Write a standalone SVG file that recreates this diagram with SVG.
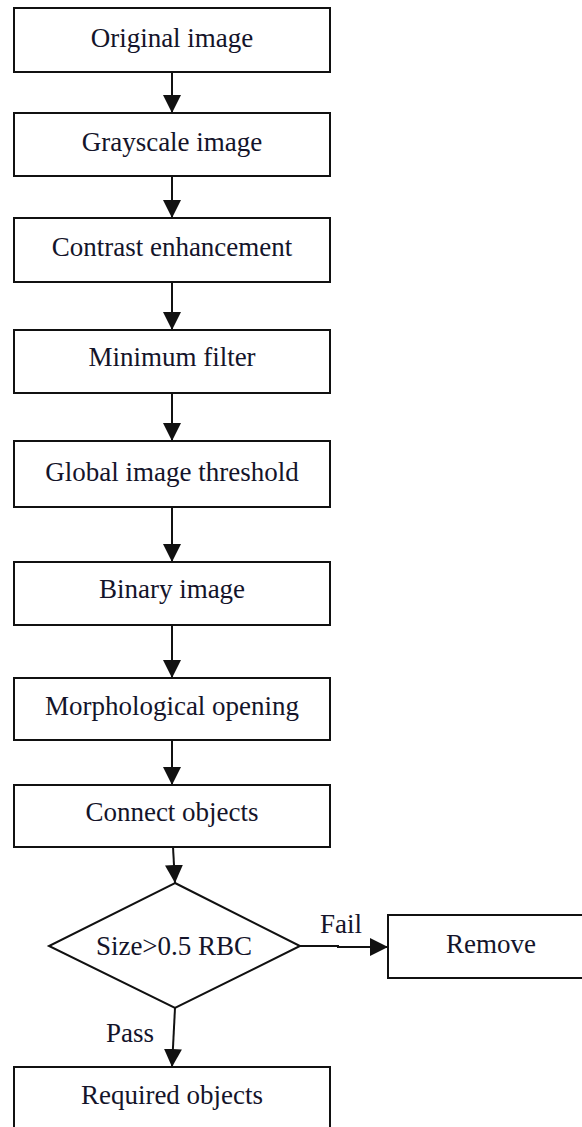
<svg xmlns="http://www.w3.org/2000/svg" width="582" height="1127" viewBox="0 0 582 1127">
<style>
.box{fill:#fff;stroke:#111;stroke-width:2}
.t{font-size:27px;fill:#14142a;text-anchor:middle}
.l{font-size:27px;fill:#14142a}
.c{fill:none;stroke:#111;stroke-width:2}
</style>
<defs>
<marker id="ah" markerWidth="18" markerHeight="18" viewBox="0 0 18 18" refX="18" refY="9" orient="auto" markerUnits="userSpaceOnUse">
<path d="M0,0 L18,9 L0,18 Z" fill="#111"/>
</marker>
</defs>
<rect width="582" height="1127" fill="#fff"/>
<g font-family="Liberation Serif, Tinos, DejaVu Serif, serif">
<g id="connectors">
<line class="c" x1="172" y1="72" x2="172" y2="113" marker-end="url(#ah)"/>
<line class="c" x1="172" y1="176" x2="172" y2="218" marker-end="url(#ah)"/>
<line class="c" x1="172" y1="282" x2="172" y2="330" marker-end="url(#ah)"/>
<line class="c" x1="172" y1="393" x2="172" y2="441" marker-end="url(#ah)"/>
<line class="c" x1="172" y1="507" x2="172" y2="562" marker-end="url(#ah)"/>
<line class="c" x1="172" y1="625" x2="172" y2="678" marker-end="url(#ah)"/>
<line class="c" x1="172" y1="740" x2="172" y2="785" marker-end="url(#ah)"/>
<line class="c" x1="173" y1="847" x2="175" y2="883" marker-end="url(#ah)"/>
<polyline class="c" points="300,946 338,946 338,947 388,947" marker-end="url(#ah)"/>
<line class="c" x1="175" y1="1008" x2="172" y2="1067" marker-end="url(#ah)"/>
<text class="l" x="320" y="933">Fail</text>
<text class="l" x="106" y="1042">Pass</text>
</g>
<g id="n1"><rect class="box" x="14" y="8" width="316" height="64"/><text class="t" x="172" y="47">Original image</text></g>
<g id="n2"><rect class="box" x="14" y="113" width="316" height="63"/><text class="t" x="172" y="151">Grayscale image</text></g>
<g id="n3"><rect class="box" x="14" y="218" width="316" height="64"/><text class="t" x="172" y="256">Contrast enhancement</text></g>
<g id="n4"><rect class="box" x="14" y="330" width="316" height="63"/><text class="t" x="172" y="366">Minimum filter</text></g>
<g id="n5"><rect class="box" x="14" y="441" width="316" height="66"/><text class="t" x="172" y="481">Global image threshold</text></g>
<g id="n6"><rect class="box" x="14" y="562" width="316" height="63"/><text class="t" x="172" y="598">Binary image</text></g>
<g id="n7"><rect class="box" x="14" y="678" width="316" height="62"/><text class="t" x="172" y="715">Morphological opening</text></g>
<g id="n8"><rect class="box" x="14" y="785" width="316" height="62"/><text class="t" x="172" y="821">Connect objects</text></g>
<g id="n9"><polygon class="box" points="175,883 300,946 175,1008 49,946"/><text class="t" x="174" y="955">Size&gt;0.5 RBC</text></g>
<g id="n10"><rect class="box" x="388" y="915" width="200" height="63"/><text class="t" x="491" y="953">Remove</text></g>
<g id="n11"><rect class="box" x="14" y="1067" width="316" height="80"/><text class="t" x="172" y="1104">Required objects</text></g>
</g>
</svg>
